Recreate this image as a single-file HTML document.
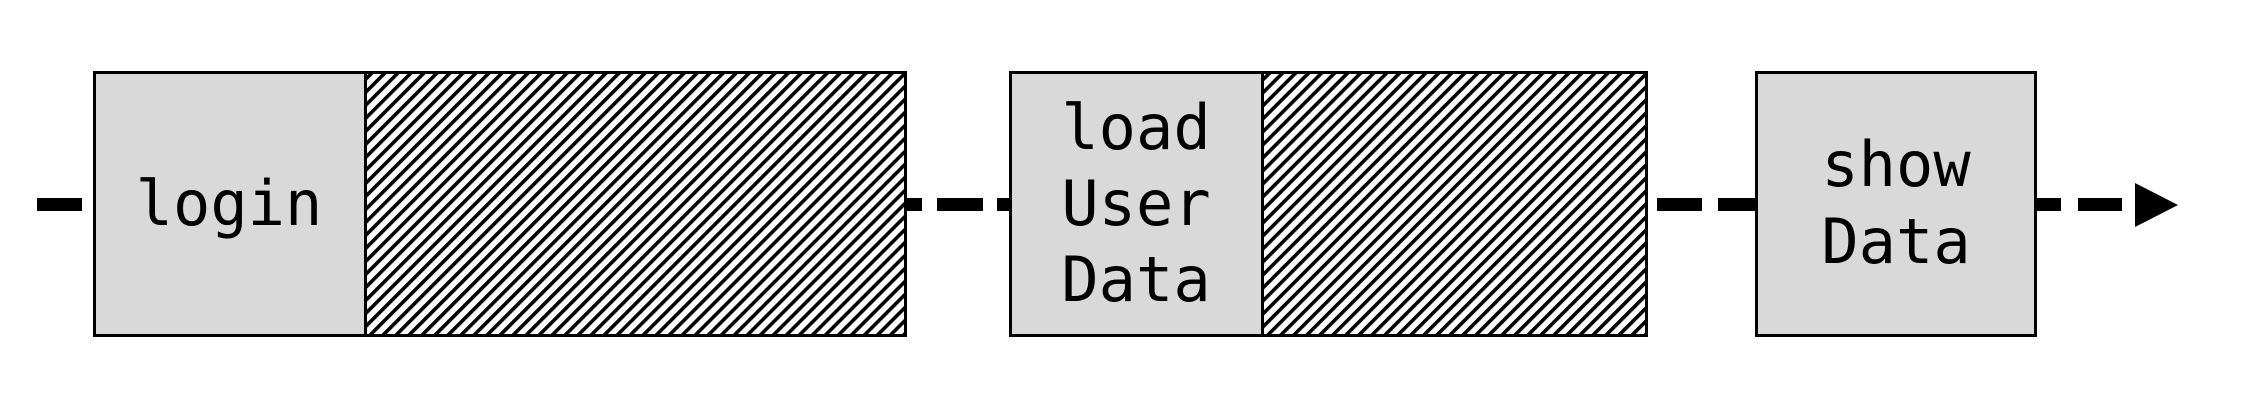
<!DOCTYPE html>
<html><head><meta charset="utf-8"><style>
html,body{margin:0;padding:0;background:#fff;width:2242px;height:420px;overflow:hidden}
svg{display:block}
text{font-family:"DejaVu Sans Mono","Liberation Mono",monospace;font-size:62px;fill:#000}
</style></head><body>
<svg width="2242" height="420" viewBox="0 0 2242 420" xmlns="http://www.w3.org/2000/svg">
<defs>
<pattern id="h" patternUnits="userSpaceOnUse" width="9.2" height="9.2" patternTransform="rotate(45)">
<rect width="9.2" height="9.2" fill="#fff"/>
<rect x="0" y="0" width="3.6" height="9.2" fill="#000"/>
</pattern>
</defs>
<g fill="#000">
<rect x="37" y="198" width="45" height="13"/>
<rect x="906" y="198" width="16" height="13"/>
<rect x="937" y="198" width="46" height="13"/>
<rect x="997" y="198" width="13" height="13"/>
<rect x="1657" y="198" width="45" height="13"/>
<rect x="1718" y="198" width="38" height="13"/>
<rect x="2035" y="198" width="26" height="13"/>
<rect x="2078" y="198" width="44" height="13"/>
<polygon points="2135,183 2178,205 2135,227"/>
</g>
<rect x="94.5" y="72.5" width="271" height="263" fill="#d9d9d9"/>
<rect x="365.5" y="72.5" width="540" height="263" fill="url(#h)"/>
<rect x="94.5" y="72.5" width="811" height="263" fill="none" stroke="#000" stroke-width="3"/>
<line x1="365.5" y1="72.5" x2="365.5" y2="335.5" stroke="#000" stroke-width="3"/>
<text x="229" y="225" text-anchor="middle">login</text>
<rect x="1010.5" y="72.5" width="252" height="263" fill="#d9d9d9"/>
<rect x="1262.5" y="72.5" width="384" height="263" fill="url(#h)"/>
<rect x="1010.5" y="72.5" width="636" height="263" fill="none" stroke="#000" stroke-width="3"/>
<line x1="1262.5" y1="72.5" x2="1262.5" y2="335.5" stroke="#000" stroke-width="3"/>
<text x="1136" y="149" text-anchor="middle">load</text>
<text x="1136" y="225" text-anchor="middle">User</text>
<text x="1136" y="301" text-anchor="middle">Data</text>
<rect x="1756.5" y="72.5" width="279" height="263" fill="#d9d9d9" stroke="#000" stroke-width="3"/>
<text x="1896" y="186" text-anchor="middle">show</text>
<text x="1896" y="263" text-anchor="middle">Data</text>
</svg>
</body></html>
